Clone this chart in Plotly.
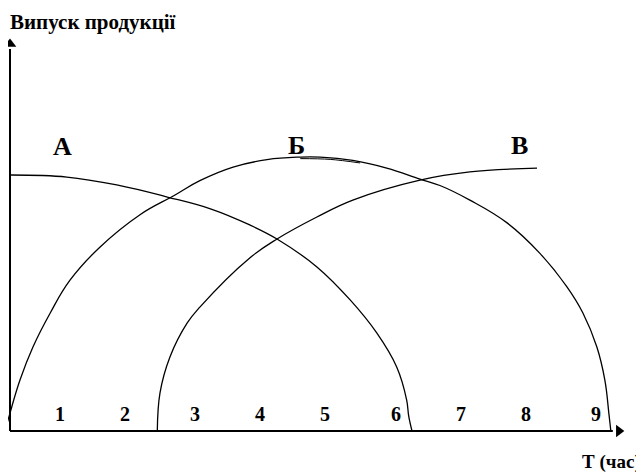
import plotly.graph_objects as go

# curve points: x in hours, y in output units
a_x = [0.0, 0.84, 1.59, 2.35, 3.01, 3.59, 4.0, 4.60, 5.10, 5.50, 5.80, 5.95, 5.98, 6.03]
a_y = [10.0, 9.92, 9.61, 9.14, 8.67, 8.05, 7.5, 6.41, 5.12, 3.83, 2.5, 1.21, 0.59, 0.0]

b_x = [-0.09, -0.015, 0.135, 0.33, 0.59, 0.89, 1.34, 1.94, 2.44, 2.84, 3.34, 3.85,
       4.35, 4.65, 5.14, 5.65, 6.15, 6.45, 6.90, 7.46, 7.95, 8.36, 8.60, 8.81, 8.93, 8.99, 9.02]
b_y = [0.0, 0.70, 1.99, 3.28, 4.61, 5.90, 7.19, 8.45, 9.18, 9.78, 10.31, 10.60,
       10.70, 10.70, 10.57, 10.27, 9.84, 9.59, 9.02, 8.13, 6.95, 5.63, 4.61, 3.28, 1.99, 0.70, 0.0]

v_x = [2.20, 2.24, 2.39, 2.65, 2.84, 3.59, 4.0, 4.60, 5.14, 6.15, 6.90, 7.91]
v_y = [0.0, 1.48, 2.89, 4.22, 4.84, 6.76, 7.5, 8.36, 9.02, 9.80, 10.12, 10.27]

# short doubled stroke under the Б label
d_x = [4.35, 4.80, 5.25]
d_y = [10.64, 10.61, 10.47]

hour_labels = ['1', '2', '3', '4', '5', '6', '7', '8', '9']
hour_pos = [0.74, 1.71, 2.77, 3.74, 4.72, 5.79, 6.77, 7.74, 8.80]

curve_names = ['А', 'Б', 'В']
curve_name_x = [0.77, 4.30, 7.64]
curve_name_y = [11.13, 11.17, 11.17]

serif = 'Liberation Serif, Times New Roman, serif'

fig = go.Figure()

line = dict(color='black', width=1.3)
fig.add_trace(go.Scatter(x=a_x, y=a_y, mode='lines', line=dict(line, shape='spline', smoothing=1.1)))
fig.add_trace(go.Scatter(x=b_x, y=b_y, mode='lines', line=dict(line, shape='spline', smoothing=1.2)))
fig.add_trace(go.Scatter(x=v_x, y=v_y, mode='lines', line=dict(line, shape='spline', smoothing=1.1)))
fig.add_trace(go.Scatter(x=d_x, y=d_y, mode='lines', line=dict(color='black', width=1, shape='spline')))

# axes with arrow heads
fig.add_trace(go.Scatter(x=[-0.015, -0.015], y=[0, 14.92], mode='lines', line=dict(color='black', width=2)))
fig.add_trace(go.Scatter(x=[-0.015, 9.05], y=[0, 0], mode='lines', line=dict(color='black', width=2)))
fig.add_trace(go.Scatter(x=[-0.015], y=[15.12], mode='markers',
                         marker=dict(symbol='triangle-up', size=11, color='black')))
fig.add_trace(go.Scatter(x=[9.14], y=[0], mode='markers',
                         marker=dict(symbol='triangle-right', size=11, color='black')))

for lbl, xp in zip(hour_labels, hour_pos):
    fig.add_annotation(x=xp, y=0.66, text='<b>%s</b>' % lbl, showarrow=False,
                       font=dict(family=serif, size=20, color='black'))

for lbl, xp, yp in zip(curve_names, curve_name_x, curve_name_y):
    fig.add_annotation(x=xp, y=yp, text='<b>%s</b>' % lbl, showarrow=False,
                       font=dict(family=serif, size=26, color='black'))

# the page has an 8px body margin, so positions below are shifted by it
fig.add_annotation(xref='paper', yref='paper', x=0, y=1,
                   xanchor='left', yanchor='top', text='<b>Випуск продукції</b>',
                   showarrow=False, font=dict(family=serif, size=21, color='black'))
fig.add_annotation(xref='paper', yref='paper', x=572 / 644, y=1 - 454 / 476,
                   xanchor='left', yanchor='middle', text='<b>Т (час)</b>',
                   showarrow=False, font=dict(family=serif, size=19, color='black'))

fig.update_layout(
    width=644, height=476,
    margin=dict(l=0, r=0, t=0, b=0),
    plot_bgcolor='white', paper_bgcolor='white',
    showlegend=False,
    xaxis=dict(range=[-0.0451, 9.639], visible=False),
    yaxis=dict(range=[-2.070, 16.523], visible=False),
)

fig.write_html("out.html")
